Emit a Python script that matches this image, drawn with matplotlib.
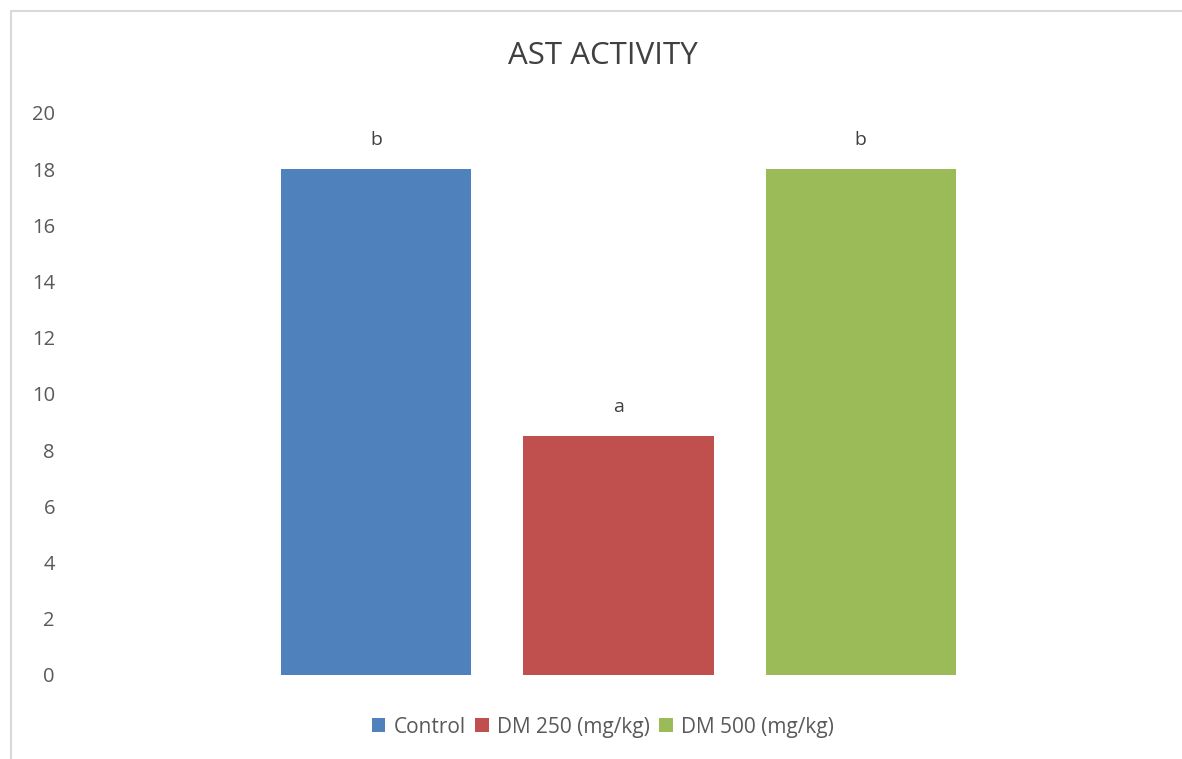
import matplotlib.pyplot as plt
from matplotlib.lines import Line2D
from matplotlib.patches import Patch

groups = ["Control", "DM 250 (mg/kg)", "DM 500 (mg/kg)"]
ast_values = [18, 8.5, 18]
letters = ["b", "a", "b"]
colors = ["#4F81BD", "#C0504D", "#9BBB59"]
yticks = [0, 2, 4, 6, 8, 10, 12, 14, 16, 18, 20]

plt.rcParams['font.family'] = ['Open Sans', 'DejaVu Sans']
txt = "#595959"

fig = plt.figure(figsize=(11.82, 7.59), dpi=100)
ax = fig.add_axes([0.2157, 0.1107, 0.615, 0.7405])

x = range(len(groups))
bars = ax.bar(x, ast_values, width=0.785, color=colors)

for xi, v, lab in zip(x, ast_values, letters):
    ax.annotate(lab, (xi, v), xytext=(0, 29), textcoords="offset pixels",
                ha="center", va="center", fontsize=14, color="#404040")

ax.set_xlim(-0.5, 2.5)
ax.set_ylim(0, 20)
ax.set_yticks(yticks)
ax.set_xticks([])
ax.tick_params(axis="y", length=0, pad=144, labelsize=14.5, labelcolor=txt)
for s in ax.spines.values():
    s.set_visible(False)

fig.text(0.51, 0.926, "AST ACTIVITY", ha="center", va="center",
         fontsize=22.5, color="#404040")

handles = [Patch(facecolor=c, edgecolor="none") for c in colors]
fig.legend(handles, groups, loc="center", bbox_to_anchor=(0.51, 0.042),
           ncol=3, frameon=False, fontsize=15, labelcolor=txt,
           handlelength=0.65, handleheight=0.65, handletextpad=0.4,
           columnspacing=0.45)

# light frame on top and left edges
fig.add_artist(Line2D([11 / 1182, 11 / 1182, 1.0], [0.0, 1 - 11 / 759, 1 - 11 / 759],
                      transform=fig.transFigure, color="#D9D9D9", lw=1.5))

fig.savefig("out.png", dpi=100)
